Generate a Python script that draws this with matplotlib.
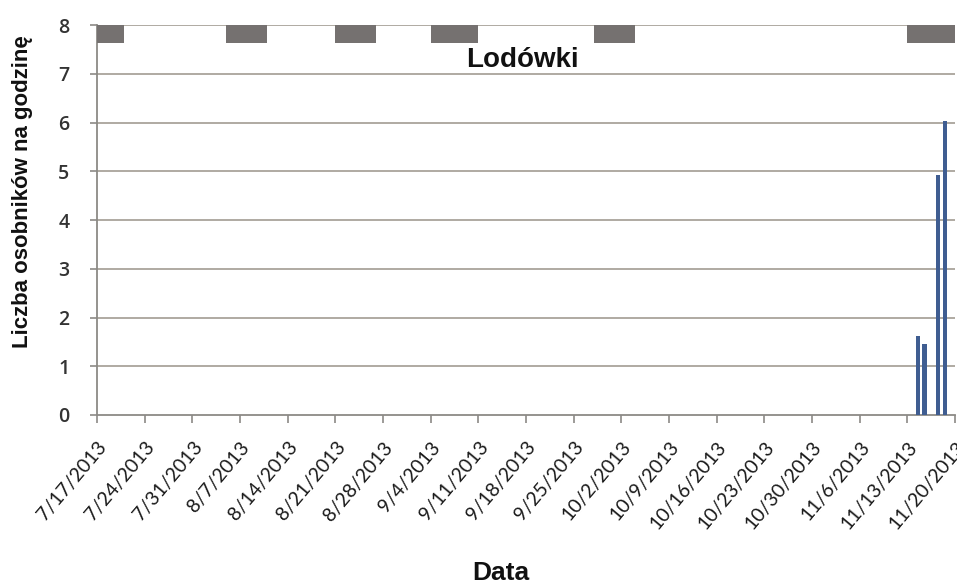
import matplotlib
matplotlib.use("Agg")
import matplotlib.pyplot as plt
import matplotlib.dates as mdates
import matplotlib.transforms as mtransforms
import pandas as pd

# Counts per hour on the sampled days
obs_dates = ["2013-11-14", "2013-11-15", "2013-11-17", "2013-11-18"]
obs_values = [1.62, 1.46, 4.93, 6.04]

# Periods when the fridges were running (start, end)
fridge_start = ["2013-07-17", "2013-08-05", "2013-08-21", "2013-09-04", "2013-09-28", "2013-11-13"]
fridge_end = ["2013-07-21", "2013-08-11", "2013-08-27", "2013-09-11", "2013-10-04", "2013-11-20"]

x_start = "2013-07-17"
x_end = "2013-11-20"
y_ticks = [0, 1, 2, 3, 4, 5, 6, 7, 8]

grid_col = "#a9a49b"
axis_col = "#8c8a86"
bar_col = "#3f5d91"
fridge_col = "#757170"

fig = plt.figure(figsize=(9.57, 5.83), dpi=100)
ax = fig.add_axes([0.1014, 0.2882, 0.8966, 0.6688])

# fridge periods as a band along the top
fs = mdates.date2num(pd.to_datetime(fridge_start))
fe = mdates.date2num(pd.to_datetime(fridge_end))
ax.bar(fs, 8 - 7.64, width=fe - fs, bottom=7.64, align="edge", color=fridge_col,
       edgecolor="none", zorder=3)

# observations
od = mdates.date2num(pd.to_datetime(obs_dates)) + 0.5
ax.bar(od, obs_values, width=0.62, color=bar_col, edgecolor="none", zorder=3)

ax.set_xlim(mdates.date2num(pd.Timestamp(x_start)), mdates.date2num(pd.Timestamp(x_end)))
ax.set_ylim(0, 8)

ticks = pd.date_range(x_start, x_end, freq="7D")
ax.set_xticks(mdates.date2num(ticks))
ax.set_xticklabels([f"{d.month}/{d.day}/{d.year}" for d in ticks], rotation=50,
                   ha="right", va="top", rotation_mode="anchor",
                   family="Lato", fontsize=14, color="#1a1a1a")
shift = mtransforms.ScaledTranslation(8 / 100, 0, fig.dpi_scale_trans)
for lab in ax.get_xticklabels():
    lab.set_transform(lab.get_transform() + shift)

ax.set_yticks(y_ticks)
ax.set_yticklabels([str(v) for v in y_ticks], family="Open Sans", fontsize=14,
                   fontweight="semibold", color="#333333")

for v in y_ticks[1:]:
    ax.axhline(v, color=grid_col, lw=1.3, zorder=1)

for s in ["top", "right"]:
    ax.spines[s].set_visible(False)
ax.spines["left"].set_color(axis_col)
ax.spines["bottom"].set_color(axis_col)
ax.spines["left"].set_linewidth(1.3)
ax.spines["bottom"].set_linewidth(1.3)
ax.tick_params(axis="x", direction="out", length=6, width=1.2, color=axis_col, pad=11)
ax.tick_params(axis="y", direction="out", length=5, width=1.2, color=axis_col, pad=15)

ax.text(0.496, 0.910, "Lodówki", transform=ax.transAxes, ha="center", va="center",
        family="Liberation Sans", fontweight="bold", fontsize=20, color="#111111")

fig.text(0.024, 0.672, "Liczba osobników na godzinę", rotation=90, ha="center", va="center",
         family="Liberation Sans", fontweight="bold", fontsize=16, color="#111111")
fig.text(0.5235, 0.018, "Data", ha="center", va="center",
         family="Liberation Sans", fontweight="bold", fontsize=19, color="#111111")

fig.savefig("out.png", dpi=100)
